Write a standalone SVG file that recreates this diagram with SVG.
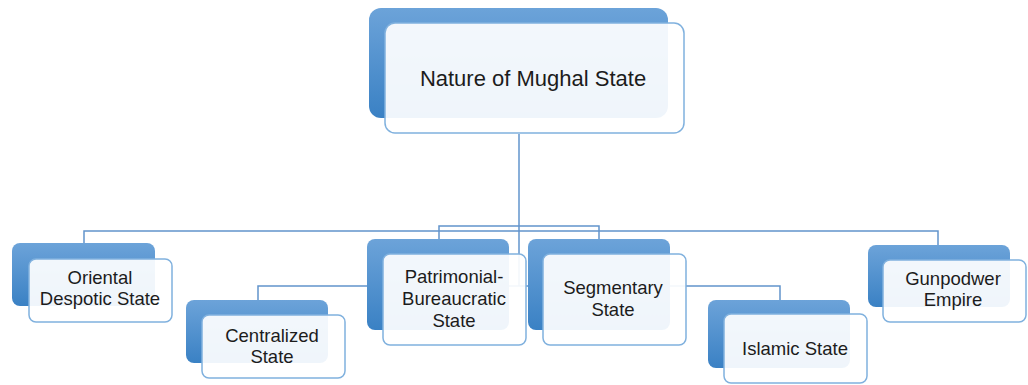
<svg xmlns="http://www.w3.org/2000/svg" width="1028" height="385" viewBox="0 0 1028 385">
<defs>
<linearGradient id="bg" x1="0" y1="0" x2="0" y2="1">
<stop offset="0" stop-color="#6ca3d9"/>
<stop offset="1" stop-color="#3a81c4"/>
</linearGradient>
<style>
.back{fill:url(#bg);}
.front{fill:#ffffff;fill-opacity:0.92;stroke:#80b1de;stroke-width:1.5;}
.conn{fill:none;stroke:#6294cc;stroke-width:1.5;}
text{font-family:"Liberation Sans",Arial,sans-serif;fill:#1c1c1c;text-anchor:middle;}
.t{font-size:18.5px;}
.title{font-size:22px;}
</style>
</defs>
<rect width="1028" height="385" fill="#ffffff"/>
<g id="connectors">
<path class="conn" d="M519,134 V286"/>
<path class="conn" d="M84,243 V231 H938 V245"/>
<path class="conn" d="M439,239 V226 H599 V239"/>
<path class="conn" d="M258,300 V286 H780 V300"/>
</g>
<g id="root">
<rect class="back" x="369" y="8" width="299" height="110" rx="12"/>
<rect class="front" x="385" y="23" width="299" height="110" rx="10"/>
<text class="title" x="533" y="86">Nature of Mughal State</text>
</g>
<g id="oriental">
<rect class="back" x="12" y="243" width="143" height="63" rx="8"/>
<rect class="front" x="29" y="259" width="143" height="63" rx="7"/>
<text class="t" x="100" y="284">Oriental</text>
<text class="t" x="100" y="305">Despotic State</text>
</g>
<g id="centralized">
<rect class="back" x="186" y="300" width="142" height="63" rx="8"/>
<rect class="front" x="202" y="315" width="143" height="63" rx="7"/>
<text class="t" x="272" y="342">Centralized</text>
<text class="t" x="272" y="363">State</text>
</g>
<g id="patrimonial">
<rect class="back" x="367" y="239" width="142" height="91" rx="8"/>
<rect class="front" x="383" y="254" width="143" height="91" rx="7"/>
<text class="t" x="454" y="283">Patrimonial-</text>
<text class="t" x="454" y="305">Bureaucratic</text>
<text class="t" x="454" y="327">State</text>
</g>
<g id="segmentary">
<rect class="back" x="528" y="239" width="142" height="91" rx="8"/>
<rect class="front" x="543" y="254" width="143" height="91" rx="7"/>
<text class="t" x="613" y="294">Segmentary</text>
<text class="t" x="613" y="316">State</text>
</g>
<g id="islamic">
<rect class="back" x="708" y="300" width="142" height="68" rx="8"/>
<rect class="front" x="724" y="314" width="143" height="69" rx="7"/>
<text class="t" x="795" y="355">Islamic State</text>
</g>
<g id="gunpowder">
<rect class="back" x="868" y="245" width="142" height="62" rx="8"/>
<rect class="front" x="883" y="260" width="143" height="62" rx="7"/>
<text class="t" x="953" y="285">Gunpodwer</text>
<text class="t" x="953" y="306">Empire</text>
</g>
</svg>
